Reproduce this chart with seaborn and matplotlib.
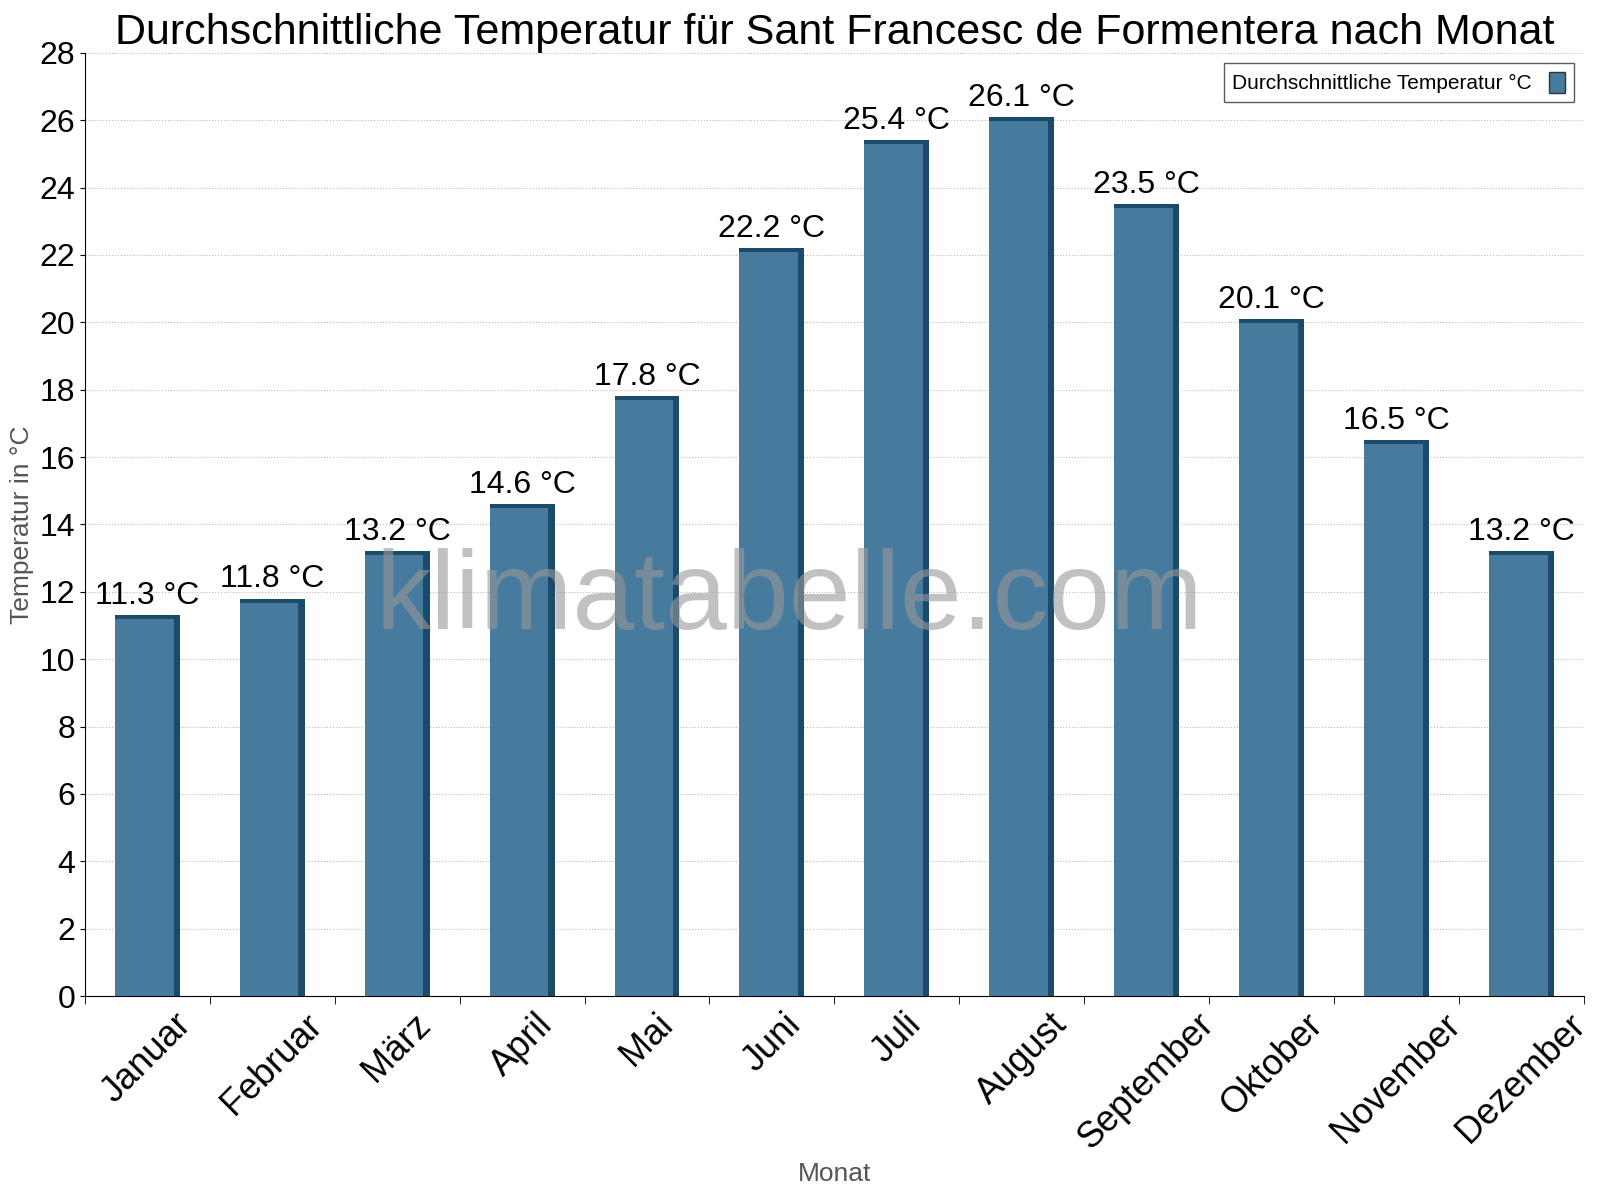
import matplotlib
matplotlib.use("Agg")
import matplotlib.pyplot as plt
import seaborn as sns
import numpy as np
import pandas as pd
from matplotlib.patches import Patch

plt.rcParams["font.family"] = "Liberation Sans"

months = ["Januar","Februar","März","April","Mai","Juni","Juli","August","September","Oktober","November","Dezember"]
temps = [11.3,11.8,13.2,14.6,17.8,22.2,25.4,26.1,23.5,20.1,16.5,13.2]
yticks = list(range(0, 29, 2))

df = pd.DataFrame({"Monat": months, "Temp": temps})
front = "#467b9e"
dark = "#1b4b6b"

fig = plt.figure(figsize=(16, 12), dpi=100)
ax = fig.add_axes([0.053, 0.17, 0.937, 0.786])
x = np.arange(len(months))
ax.bar(x + 0.0, df["Temp"], width=0.52, color=dark, zorder=2)
sns.barplot(data=df, x="Monat", y="Temp", color=front, width=0.47, ax=ax,
            saturation=1, zorder=3)
for p in ax.patches[len(months):]:
    p.set_x(p.get_x() - 0.025)
    p.set_height(p.get_height() - 0.12)
for i, t in enumerate(temps):
    ax.text(i, t + 0.12, f"{t} °C", ha="center", va="bottom", fontsize=23, zorder=5)

ax.set_xlim(-0.5, 11.5)
ax.set_ylim(0, 28)
ax.set_yticks(yticks)
ax.tick_params(axis="y", labelsize=23)
ax.set_xticks(x)
ax.set_xticklabels(months, rotation=45, fontsize=26, ha="center")
ax.tick_params(axis="x", length=0, pad=8)
ax.set_xticks(np.arange(-0.5, 12, 1), minor=True)
ax.tick_params(axis="x", which="minor", length=6)
ax.grid(axis="y", linestyle=":", color="#bbbbbb", zorder=0)
ax.set_axisbelow(True)
for s in ["top", "right"]:
    ax.spines[s].set_visible(False)
ax.set_xlabel("Monat", fontsize=19, color="#555555")
ax.set_ylabel("Temperatur in °C", fontsize=19, color="#555555")
ax.set_title("Durchschnittliche Temperatur für Sant Francesc de Formentera nach Monat", fontsize=31, pad=4)
ax.text(0.47, 0.42, "klimatabelle.com", transform=ax.transAxes, fontsize=80, color="#999999",
        alpha=0.6, ha="center", va="center", fontweight="light", zorder=6)
leg = ax.legend(handles=[Patch(facecolor=front, edgecolor="#333333")],
                labels=["Durchschnittliche Temperatur °C"], loc="upper right",
                fontsize=15, fancybox=False, edgecolor="#333333", markerfirst=False,
                handlelength=0.8, handleheight=1.2)
fig.savefig("out.png")
